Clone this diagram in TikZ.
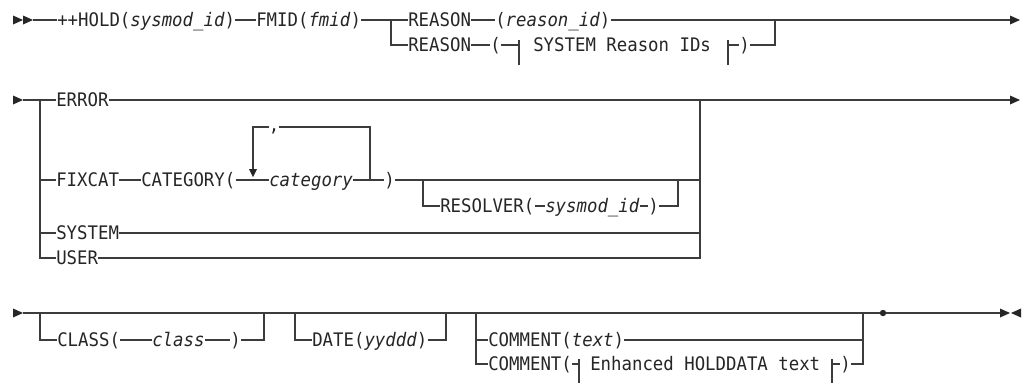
\documentclass[tikz,border=0pt]{standalone}
\usepackage{fontspec}
\newfontfamily\railfont{DejaVu Sans Mono}[FakeStretch=0.93]
\definecolor{ink}{HTML}{262626}
\definecolor{linec}{HTML}{3C3C3C}
\begin{document}
\begin{tikzpicture}[x=0.75pt,y=-0.75pt,
  rail/.style={draw=linec,line width=1pt},
  kw/.style={font=\railfont\fontsize{14}{16}\selectfont,text=ink,inner sep=0pt,
    anchor=west,text height=10.2pt,text depth=0pt},
  rarrow/.pic={\fill[ink] (0,-4.5) -- (10,0) -- (0,4.5) -- cycle;},
  larrow/.pic={\fill[ink] (0,-4.5) -- (-10,0) -- (0,4.5) -- cycle;},
  darrow/.pic={\fill[ink] (-4,-8) -- (4,-8) -- (0,0) -- cycle;}]
\fill[white] (0,0) rectangle (1022,383);
\useasboundingbox (0,0) rectangle (1022,383);

% ---------------- first line: ++HOLD ... REASON
\pic at (13,20) {rarrow};
\pic at (23,20) {rarrow};
\coordinate (r1s) at (33,20);
\node[kw] (hold) at (57,20) {++HOLD(\textit{sysmod\_id})};
\node[kw] (fmid) at (256,20) {FMID(\textit{fmid})};
\coordinate (r1b) at (391,20);
\node[kw] (rsn1) at (408,20) {REASON};
\node[kw] (rid) at (495,20) {(\textit{reason\_id})};
\coordinate (r1j) at (775,20);
\coordinate (r1e) at (1010,20);
\pic at (1010,20) {rarrow};
\draw[rail] (r1s) -- (hold.west) (hold.east) -- (fmid.west)
  (fmid.east) -- (rsn1.west) (rsn1.east) -- (rid.west) (rid.east) -- (r1e);

\node[kw] (rsn2) at (408,45) {REASON};
\node[kw] (lp1) at (490,45) {(};
\coordinate (f1a) at (519,45);
\node[kw] (frag1) at (533,45) {SYSTEM Reason IDs};
\coordinate (f1b) at (728,45);
\node[kw] (rp1) at (739,45) {)};
\draw[rail] (r1b) |- (rsn2.west);
\draw[rail] (rsn2.east) -- (lp1.west) (lp1.east) -- (f1a);
\draw[rail] (519,40) -- (519,65) (728,40) -- (728,65);
\draw[rail] (f1b) -- (rp1.west) (rp1.east) -| (r1j);

% ---------------- second line: ERROR / FIXCAT / SYSTEM / USER
\pic at (13,100) {rarrow};
\coordinate (r2s) at (23,100);
\coordinate (r2b) at (40,100);
\node[kw] (err) at (56,100) {ERROR};
\coordinate (r2j) at (700,100);
\coordinate (r2e) at (1010,100);
\pic at (1010,100) {rarrow};
\draw[rail] (r2s) -- (err.west) (err.east) -- (r2e);

\node[kw] (fix) at (56,180) {FIXCAT};
\node[kw] (cat) at (141,180) {CATEGORY(};
\node[kw] (catv) at (269,180) {\textit{category}};
\node[kw] (rp2) at (384,180) {)};
\coordinate (lpL) at (253,180);
\coordinate (lpR) at (370,180);
\coordinate (lpLt) at (253,127);
\coordinate (lpRt) at (370,127);
\node[kw,anchor=base] (comma) at (274,131) {,};
\draw[rail] (fix.east) -- (cat.west) (cat.east) -- (catv.west)
  (catv.east) -- (rp2.west);
\draw[rail] (lpR) -- (lpRt) -- (comma.east |- lpRt);
\draw[rail] (comma.west |- lpLt) -- (lpLt) -- (253,170);
\pic at (253,177) {darrow};

\coordinate (r3b) at (423,180);
\node[kw] (res) at (440,206) {RESOLVER(};
\node[kw] (resv) at (545,206) {\textit{sysmod\_id}};
\node[kw] (rp3) at (648,206) {)};
\coordinate (resj) at (678,180);
\draw[rail] (rp2.east) -- (r2j |- rp2.east);
\draw[rail] (r3b) |- (res.west) (res.east) -- (resv.west)
  (resv.east) -- (rp3.west) (rp3.east) -| (resj);

\node[kw] (sys) at (56,233) {SYSTEM};
\node[kw] (usr) at (56,258) {USER};
\draw[rail] (r2b) |- (usr.west);
\draw[rail] (r2b |- fix.west) -- (fix.west);
\draw[rail] (r2b |- sys.west) -- (sys.west);
\draw[rail] (sys.east) -- (r2j |- sys.east);
\draw[rail] (usr.east) -| (r2j);

% ---------------- third line: CLASS / DATE / COMMENT
\pic at (13,313) {rarrow};
\coordinate (r3s) at (23,313);
\coordinate (dot) at (883,313);
\coordinate (r3e) at (1001,313);
\draw[rail] (r3s) -- (dot) -- (r3e);
\fill[ink] (dot) circle (2.4pt);
\pic at (1000,313) {rarrow};
\pic at (1021,313) {larrow};

\coordinate (c1) at (40,313);
\coordinate (c2) at (264,313);
\node[kw] (cls) at (57,340) {CLASS(};
\node[kw] (clsv) at (152,340) {\textit{class}};
\node[kw] (rp4) at (230,340) {)};
\draw[rail] (c1) |- (cls.west) (cls.east) -- (clsv.west)
  (clsv.east) -- (rp4.west) (rp4.east) -| (c2);

\coordinate (d1) at (295,313);
\coordinate (d2) at (446,313);
\node[kw] (date) at (312,340) {DATE(\textit{yyddd})};
\draw[rail] (d1) |- (date.west) (date.east) -| (d2);

\coordinate (m1) at (476,313);
\coordinate (m2) at (863,313);
\node[kw] (cmt1) at (488,340) {COMMENT(\textit{text})};
\node[kw] (cmt2) at (488,364) {COMMENT(};
\coordinate (f2a) at (579,364);
\node[kw] (frag2) at (590,364) {Enhanced HOLDDATA text};
\coordinate (f2b) at (832,364);
\node[kw] (rp5) at (840,364) {)};
\draw[rail] (m1) |- (cmt2.west);
\draw[rail] (m1 |- cmt1.west) -- (cmt1.west);
\draw[rail] (cmt1.east) -- (m2 |- cmt1.east);
\draw[rail] (cmt2.east) -- (f2a);
\draw[rail] (579,359) -- (579,383) (832,359) -- (832,383);
\draw[rail] (f2b) -- (rp5.west) (rp5.east) -| (m2);
\end{tikzpicture}
\end{document}
